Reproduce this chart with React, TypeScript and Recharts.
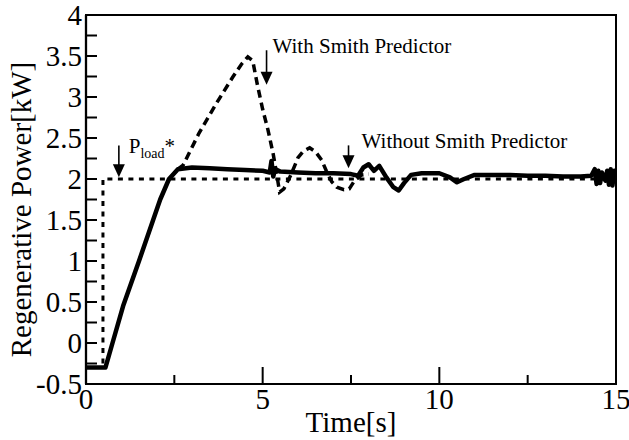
import React from 'react';
import { LineChart, Line, XAxis, YAxis, ReferenceArea, ReferenceLine, ReferenceDot, Label } from 'recharts';

const FONT = "'Liberation Serif', 'DejaVu Serif', serif";
const txtStyle = { fontFamily: FONT };

// Tick values and labels
const xTicks = [0, 2.5, 5, 7.5, 10, 12.5, 15];
const xTickLabels = ['0', '', '5', '', '10', '', '15'];
const yTicks = [-0.5, -0.25, 0, 0.25, 0.5, 0.75, 1, 1.25, 1.5, 1.75, 2, 2.25, 2.5, 2.75, 3, 3.25, 3.5, 3.75, 4];
const yTickLabels = ['-0.5', '', '0', '', '0.5', '', '1', '', '1.5', '', '2', '', '2.5', '', '3', '', '3.5', '', '4'];

// Reference command P_load*
const ploadTime = [0, 0.48, 0.48, 15];
const ploadValue = [-0.3, -0.3, 2, 2];

// Without Smith Predictor (solid)
const withoutTime = [0, 0.55, 0.75, 1.05, 1.5, 1.9, 2.1, 2.35, 2.6, 3.0, 3.5, 4.0, 4.5, 5.0, 5.2, 5.25, 5.3, 5.35, 5.5, 6.0, 6.5, 7.0, 7.5, 7.7, 7.85, 8.0, 8.15, 8.3, 8.5, 8.7, 8.85, 9.0, 9.2, 9.5, 10.0, 10.3, 10.5, 10.7, 11.0, 11.5, 12.0, 12.5, 13.0, 13.5, 14.0, 14.3, 14.4, 14.45, 14.5, 14.55, 14.6, 14.7, 14.75, 14.8, 14.85, 14.9, 14.95, 15.0];
const withoutValue = [-0.3, -0.3, 0, 0.45, 1.0, 1.5, 1.75, 2.0, 2.12, 2.14, 2.13, 2.12, 2.11, 2.1, 2.08, 2.22, 2.03, 2.12, 2.09, 2.08, 2.07, 2.07, 2.06, 2.04, 2.14, 2.18, 2.1, 2.16, 2.02, 1.9, 1.86, 1.95, 2.05, 2.07, 2.07, 2.02, 1.96, 2.0, 2.05, 2.05, 2.05, 2.04, 2.04, 2.03, 2.03, 2.04, 2.12, 1.94, 2.1, 1.95, 2.08, 1.98, 2.1, 1.93, 2.12, 1.92, 2.1, 2.02];

// With Smith Predictor (dashed)
const withTime = [2.6, 2.75, 3.2, 3.7, 4.15, 4.4, 4.58, 4.72, 4.85, 5.0, 5.15, 5.3, 5.4, 5.48, 5.6, 5.8, 6.0, 6.15, 6.33, 6.5, 6.67, 6.8, 6.95, 7.1, 7.3, 7.45, 7.6, 7.8, 8.0];
const withValue = [2.12, 2.17, 2.56, 2.93, 3.24, 3.4, 3.49, 3.44, 3.15, 2.85, 2.6, 2.3, 2.05, 1.84, 1.88, 2.05, 2.26, 2.34, 2.38, 2.33, 2.23, 2.1, 1.97, 1.9, 1.87, 1.88, 1.98, 2.05, 2.06];

// Annotation arrows (data coordinates)
const arrowX = [0.93, 5.11, 7.43];
const arrowTop = [2.41, 3.57, 2.41];
const arrowTip = [2.02, 3.15, 2.13];

// Annotation texts
const textX = [5.28, 7.8];
const textY = [3.54, 2.38];
const textLabels = ['With Smith Predictor', 'Without Smith Predictor'];
const ploadLabelX = 1.21;
const ploadLabelY = 2.32;

const zip = (t: number[], v: number[]) => t.map((x, i) => ({ t: x, v: v[i] }));
const ploadData = zip(ploadTime, ploadValue);
const withoutData = zip(withoutTime, withoutValue);
const withData = zip(withTime, withValue);

const XTick = (props: any) => {
  const { x, y, payload } = props;
  const idx = xTicks.indexOf(payload.value);
  const label = xTickLabels[idx] || '';
  const major = label !== '';
  return (
    <g>
      <line x1={x} y1={y} x2={x} y2={y - (major ? 17 : 9)} stroke="#000" strokeWidth={2} />
      {major && (
        <text x={x} y={y + 25} textAnchor="middle" fontSize={29} style={txtStyle} fill="#000">
          {label}
        </text>
      )}
    </g>
  );
};

const YTick = (props: any) => {
  const { x, y, payload } = props;
  const idx = yTicks.indexOf(payload.value);
  const label = yTickLabels[idx] || '';
  return (
    <g>
      <line x1={x} y1={y} x2={x + 11} y2={y} stroke="#000" strokeWidth={2} />
      {label !== '' && (
        <text x={x - 4} y={y + 10} textAnchor="end" fontSize={29} style={txtStyle} fill="#000">
          {label}
        </text>
      )}
    </g>
  );
};

const ArrowShape = (props: any) => {
  const { x1, y1, x2, y2 } = props;
  const topY = Math.min(y1, y2);
  const tipY = Math.max(y1, y2);
  const x = x1;
  return (
    <g>
      <line x1={x} y1={topY} x2={x} y2={tipY - 8} stroke="#000" strokeWidth={1.6} />
      <polygon points={`${x - 6},${tipY - 13} ${x + 6},${tipY - 13} ${x},${tipY}`} fill="#000" />
    </g>
  );
};

const makeTextShape = (label: string) => (props: any) => (
  <text x={props.cx} y={props.cy} fontSize={21} style={txtStyle} fill="#000">
    {label}
  </text>
);

const PloadShape = (props: any) => (
  <text x={props.cx} y={props.cy} fontSize={21} style={txtStyle} fill="#000">
    P
    <tspan fontSize={14} dy={5}>load</tspan>
    <tspan fontSize={21} dy={-5}>*</tspan>
  </text>
);

export default function App() {
  return (
    <div style={{ position: 'absolute', left: 0, top: 0, width: 629, height: 440, background: '#fff', fontFamily: FONT }}>
      <LineChart width={629} height={440} margin={{ top: 15, right: 13, bottom: 26, left: 26 }} style={txtStyle}>
        <XAxis
          type="number"
          dataKey="t"
          domain={[0, 15]}
          ticks={xTicks}
          interval={0}
          allowDataOverflow
          tickSize={0}
          tickMargin={0}
          tick={<XTick />}
          tickLine={false}
          axisLine={{ stroke: '#000', strokeWidth: 2 }}
          height={30}
        >
          <Label
            content={(p: any) => (
              <text
                x={p.viewBox.x + p.viewBox.width / 2}
                y={p.viewBox.y + 48}
                textAnchor="middle"
                fontSize={29}
                style={txtStyle}
                fill="#000"
              >
                Time[s]
              </text>
            )}
          />
        </XAxis>
        <YAxis
          type="number"
          domain={[-0.5, 4]}
          ticks={yTicks}
          interval={0}
          allowDataOverflow
          tickSize={0}
          tickMargin={0}
          tick={<YTick />}
          tickLine={false}
          axisLine={{ stroke: '#000', strokeWidth: 2.3 }}
          width={60}
        >
          <Label
            content={(p: any) => {
              const cx = p.viewBox.x + 5;
              const cy = p.viewBox.y + p.viewBox.height / 2 + 10;
              return (
                <text
                  x={cx}
                  y={cy}
                  transform={`rotate(-90, ${cx}, ${cy})`}
                  textAnchor="middle"
                  fontSize={29}
                  style={txtStyle}
                  fill="#000"
                >
                  Regenerative Power[kW]
                </text>
              );
            }}
          />
        </YAxis>
        <ReferenceArea x1={0} x2={15} y1={-0.5} y2={4} fill="none" stroke="#000" strokeWidth={2} fillOpacity={0} />
        <Line
          data={ploadData}
          dataKey="v"
          type="linear"
          stroke="#000"
          strokeWidth={3}
          strokeDasharray="5 5.5"
          dot={false}
          isAnimationActive={false}
        />
        <Line
          data={withData}
          dataKey="v"
          type="linear"
          stroke="#000"
          strokeWidth={3.5}
          strokeDasharray="8 5"
          dot={false}
          isAnimationActive={false}
        />
        <Line
          data={withoutData}
          dataKey="v"
          type="linear"
          stroke="#000"
          strokeWidth={4.5}
          strokeLinejoin="round"
          dot={false}
          isAnimationActive={false}
        />
        {arrowX.map((ax, i) => (
          <ReferenceLine
            key={`arrow-${i}`}
            segment={[
              { x: ax, y: arrowTop[i] },
              { x: ax, y: arrowTip[i] },
            ]}
            stroke="#000"
            shape={<ArrowShape />}
          />
        ))}
        {textLabels.map((lbl, i) => (
          <ReferenceDot key={`txt-${i}`} x={textX[i]} y={textY[i]} r={0} shape={makeTextShape(lbl)} />
        ))}
        <ReferenceDot x={ploadLabelX} y={ploadLabelY} r={0} shape={PloadShape} />
      </LineChart>
    </div>
  );
}
